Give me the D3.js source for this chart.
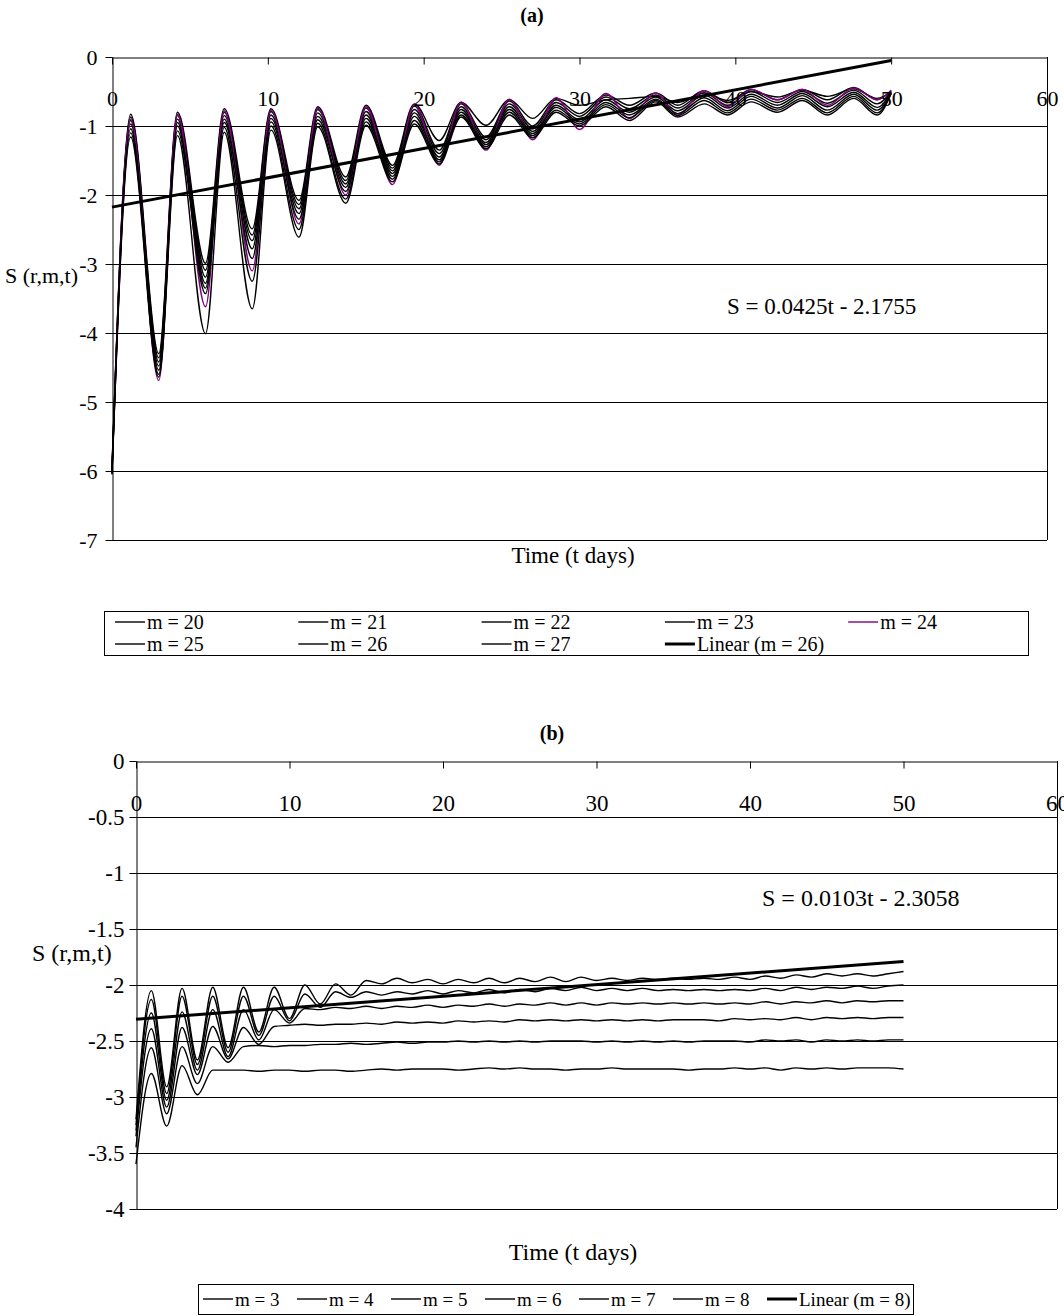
<!DOCTYPE html>
<html>
<head>
<meta charset="utf-8">
<script src="https://cdn.jsdelivr.net/npm/d3@7"></script>
<style>
  html, body { margin: 0; padding: 0; background: #fff; }
  svg { display: block; }
  text { font-family: "Liberation Serif", "Times New Roman", serif; fill: #000; }
</style>
</head>
<body>
<svg id="chart" width="1064" height="1316"></svg>
<script>
// ---------- Panel (a): m = 20 … 27 ----------
const timeA = [0, 1.2, 3, 4.2, 6, 7.2, 9, 10.2, 12, 13.2, 15, 16.3, 18, 19.4, 21, 22.4, 24, 25.5, 27, 28.5,
               30, 31.7, 33.2, 34.9, 36.3, 38, 39.5, 41, 42.7, 44.3, 45.9, 47.6, 49.1, 50];
const seriesNamesA = ["m = 20", "m = 21", "m = 22", "m = 23", "m = 24", "m = 25", "m = 26", "m = 27"];
const seriesColorsA = ["#000", "#000", "#000", "#000", "#800080", "#000", "#000", "#000"];
const m20 = [-5.95, -0.83, -4.30, -0.80, -2.99, -0.75, -2.49, -0.75, -2.08, -0.72, -1.74, -0.70, -1.57, -0.68, -1.21, -0.66, -0.99, -0.62, -0.89, -0.60, -0.70, -0.62, -0.60, -0.57, -0.66, -0.52, -0.63, -0.50, -0.58, -0.48, -0.57, -0.46, -0.60, -0.50];
const m21 = [-5.97, -0.87, -4.36, -0.85, -3.09, -0.80, -2.58, -0.79, -2.14, -0.76, -1.79, -0.74, -1.61, -0.71, -1.35, -0.68, -1.16, -0.64, -1.00, -0.62, -0.82, -0.55, -0.70, -0.52, -0.70, -0.49, -0.66, -0.47, -0.62, -0.47, -0.62, -0.44, -0.62, -0.49];
const m22 = [-5.98, -0.92, -4.42, -0.90, -3.19, -0.85, -2.66, -0.84, -2.20, -0.81, -1.84, -0.79, -1.65, -0.76, -1.40, -0.72, -1.20, -0.68, -1.04, -0.66, -0.86, -0.58, -0.75, -0.55, -0.74, -0.52, -0.70, -0.50, -0.66, -0.50, -0.67, -0.48, -0.68, -0.50];
const m23 = [-6.00, -0.97, -4.48, -0.95, -3.28, -0.90, -2.78, -0.89, -2.27, -0.86, -1.89, -0.84, -1.69, -0.81, -1.45, -0.76, -1.24, -0.72, -1.08, -0.70, -0.91, -0.62, -0.80, -0.58, -0.78, -0.55, -0.74, -0.54, -0.70, -0.53, -0.72, -0.51, -0.73, -0.51];
const m24 = [-6.02, -0.90, -4.69, -0.83, -3.62, -0.78, -3.10, -0.77, -2.42, -0.74, -2.00, -0.72, -1.85, -0.69, -1.57, -0.65, -1.35, -0.61, -1.20, -0.59, -1.05, -0.53, -0.89, -0.52, -0.84, -0.49, -0.72, -0.47, -0.62, -0.47, -0.70, -0.45, -0.62, -0.48];
const m25 = [-6.03, -1.04, -4.54, -1.00, -3.35, -0.95, -2.92, -0.94, -2.35, -0.91, -1.95, -0.89, -1.73, -0.86, -1.49, -0.80, -1.27, -0.76, -1.11, -0.73, -0.94, -0.66, -0.84, -0.61, -0.82, -0.59, -0.78, -0.57, -0.74, -0.56, -0.77, -0.54, -0.77, -0.52];
const m26 = [-6.04, -1.10, -4.60, -1.07, -3.43, -1.02, -3.25, -1.00, -2.50, -0.96, -2.06, -0.94, -1.77, -0.92, -1.52, -0.84, -1.30, -0.80, -1.14, -0.77, -0.97, -0.69, -0.88, -0.63, -0.85, -0.63, -0.81, -0.61, -0.77, -0.60, -0.81, -0.57, -0.81, -0.53];
const m27 = [-6.05, -1.16, -4.64, -1.14, -4.01, -1.09, -3.65, -1.06, -2.61, -1.01, -2.12, -0.99, -1.81, -0.97, -1.55, -0.87, -1.33, -0.84, -1.17, -0.80, -1.00, -0.72, -0.92, -0.65, -0.87, -0.68, -0.84, -0.65, -0.80, -0.63, -0.84, -0.60, -0.84, -0.53];
const trendA = { slope: 0.0425, intercept: -2.1755, span: [0, 50], label: "Linear (m = 26)",
                 equation: "S = 0.0425t - 2.1755" };
const xTicksA = [0, 10, 20, 30, 40, 50, 60];
const yTicksA = [0, -1, -2, -3, -4, -5, -6, -7];

// ---------- Panel (b): m = 3 … 8 ----------
const timeB = [0, 1, 2, 3, 4, 5, 6, 7, 8, 9, 10, 11, 12, 13, 14, 15, 16, 17, 18, 19, 20, 21, 22, 23, 24, 25,
               26, 27, 28, 29, 30, 31, 32, 33, 34, 35, 36, 37, 38, 39, 40, 41, 42, 43, 44, 45, 46, 47, 48, 49, 50];
const seriesNamesB = ["m = 3", "m = 4", "m = 5", "m = 6", "m = 7", "m = 8"];
const m3 = [-3.60, -2.79, -3.26, -2.72, -2.98, -2.76, -2.76, -2.76, -2.77, -2.76, -2.76, -2.77, -2.76, -2.76, -2.77, -2.76, -2.75, -2.76, -2.75, -2.75, -2.75, -2.76, -2.75, -2.74, -2.75, -2.74, -2.75, -2.75, -2.76, -2.75, -2.75, -2.74, -2.75, -2.75, -2.75, -2.75, -2.76, -2.75, -2.75, -2.74, -2.75, -2.74, -2.76, -2.74, -2.75, -2.74, -2.75, -2.74, -2.74, -2.74, -2.75];
const m4 = [-3.45, -2.56, -3.15, -2.55, -2.88, -2.55, -2.69, -2.55, -2.54, -2.55, -2.54, -2.54, -2.53, -2.53, -2.52, -2.53, -2.52, -2.51, -2.52, -2.51, -2.51, -2.50, -2.51, -2.50, -2.51, -2.50, -2.51, -2.50, -2.50, -2.50, -2.51, -2.50, -2.51, -2.50, -2.51, -2.50, -2.51, -2.50, -2.50, -2.50, -2.51, -2.49, -2.50, -2.49, -2.51, -2.49, -2.50, -2.49, -2.50, -2.49, -2.49];
const m5 = [-3.35, -2.39, -3.09, -2.38, -2.80, -2.37, -2.66, -2.38, -2.53, -2.37, -2.36, -2.35, -2.36, -2.35, -2.35, -2.34, -2.35, -2.33, -2.34, -2.33, -2.34, -2.32, -2.33, -2.32, -2.33, -2.31, -2.32, -2.31, -2.32, -2.31, -2.32, -2.31, -2.32, -2.31, -2.32, -2.31, -2.31, -2.31, -2.32, -2.30, -2.31, -2.30, -2.31, -2.29, -2.31, -2.29, -2.30, -2.29, -2.30, -2.29, -2.29];
const m6 = [-3.30, -2.25, -3.03, -2.24, -2.76, -2.22, -2.64, -2.22, -2.49, -2.22, -2.34, -2.21, -2.22, -2.20, -2.21, -2.19, -2.21, -2.19, -2.20, -2.18, -2.20, -2.18, -2.19, -2.17, -2.19, -2.17, -2.18, -2.16, -2.18, -2.16, -2.18, -2.16, -2.17, -2.16, -2.17, -2.16, -2.17, -2.16, -2.17, -2.16, -2.17, -2.15, -2.17, -2.15, -2.16, -2.14, -2.16, -2.14, -2.15, -2.14, -2.14];
const m7 = [-3.25, -2.13, -2.97, -2.10, -2.71, -2.10, -2.60, -2.10, -2.45, -2.10, -2.32, -2.08, -2.20, -2.06, -2.11, -2.06, -2.09, -2.06, -2.08, -2.05, -2.08, -2.05, -2.07, -2.04, -2.07, -2.04, -2.06, -2.03, -2.05, -2.02, -2.05, -2.03, -2.05, -2.03, -2.05, -2.04, -2.05, -2.04, -2.05, -2.04, -2.05, -2.03, -2.05, -2.02, -2.04, -2.02, -2.03, -2.01, -2.03, -2.01, -2.00];
const m8 = [-3.20, -2.05, -2.91, -2.03, -2.67, -2.02, -2.56, -2.02, -2.42, -2.02, -2.30, -2.00, -2.17, -1.99, -2.09, -1.96, -1.99, -1.94, -1.98, -1.95, -1.99, -1.95, -1.98, -1.94, -1.98, -1.94, -1.97, -1.93, -1.97, -1.93, -1.96, -1.94, -1.96, -1.94, -1.95, -1.94, -1.95, -1.94, -1.95, -1.93, -1.95, -1.92, -1.94, -1.91, -1.93, -1.90, -1.92, -1.90, -1.92, -1.90, -1.88];
const trendB = { slope: 0.0103, intercept: -2.3058, span: [0, 50], label: "Linear (m = 8)",
                 equation: "S = 0.0103t - 2.3058" };
const xTicksB = [0, 10, 20, 30, 40, 50, 60];
const yTicksB = [0, -0.5, -1, -1.5, -2, -2.5, -3, -3.5, -4];

const svg = d3.select("#chart");
const SERIF = '"Liberation Serif", "Times New Roman", serif';

function drawPanel(cfg) {
  const g = svg.append("g");
  const x = d3.scaleLinear().domain([0, 60]).range(cfg.xRange);
  const y = d3.scaleLinear().domain(cfg.yDomain).range(cfg.yRange);
  const [x0, x1] = cfg.xRange;
  const [yb, yt] = cfg.yRange;

  // horizontal gridlines (the lowest one closes the plot area)
  g.append("g").selectAll("line")
    .data(cfg.yTicks.filter(v => v !== 0))
    .join("line")
    .attr("x1", x0).attr("x2", x1)
    .attr("y1", d => Math.round(y(d)) + 0.5).attr("y2", d => Math.round(y(d)) + 0.5)
    .attr("stroke", "#000").attr("stroke-width", 1);
  // right border of the plot area
  g.append("line")
    .attr("x1", Math.round(x1) + 0.5).attr("x2", Math.round(x1) + 0.5)
    .attr("y1", yt).attr("y2", yb)
    .attr("stroke", "#000").attr("stroke-width", 1);

  // data series
  const line = d3.line()
    .x((d, i) => x(cfg.time[i]))
    .y(d => y(d))
    .curve(d3.curveMonotoneX);
  g.append("g").selectAll("path")
    .data(cfg.series)
    .join("path")
    .attr("d", d => line(d.values))
    .attr("fill", "none")
    .attr("stroke", d => d.color)
    .attr("stroke-width", 1.4)
    .attr("stroke-linejoin", "round");

  // linear trend
  const tr = cfg.trend;
  g.append("line")
    .attr("x1", x(tr.span[0])).attr("y1", y(tr.intercept + tr.slope * tr.span[0]))
    .attr("x2", x(tr.span[1])).attr("y2", y(tr.intercept + tr.slope * tr.span[1]))
    .attr("stroke", "#000").attr("stroke-width", 3);

  // value axis (left)
  const yAxis = g.append("g")
    .attr("transform", `translate(${Math.round(x0) + 0.5},0)`)
    .call(d3.axisLeft(y).tickValues(cfg.yTicks).tickSize(7).tickSizeOuter(0)
      .tickPadding(cfg.yLabelGap).tickFormat(d => String(d)));
  yAxis.select(".domain").attr("stroke", "#000");
  yAxis.selectAll("text").style("font-size", cfg.tickFont + "px").style("font-family", SERIF);

  // time axis along S = 0
  const xAxis = g.append("g")
    .attr("transform", `translate(0,${Math.round(y(0)) + 0.5})`)
    .call(d3.axisBottom(x).tickValues(cfg.xTicks).tickSize(7).tickSizeOuter(0)
      .tickPadding(cfg.xLabelGap).tickFormat(d => String(d)));
  xAxis.select(".domain").attr("stroke", "#000");
  xAxis.selectAll("text").style("font-size", cfg.tickFont + "px").style("font-family", SERIF);

  // titles
  g.append("text").attr("x", cfg.title.x).attr("y", cfg.title.y)
    .attr("text-anchor", "middle").style("font-size", "20px").style("font-weight", "bold")
    .text(cfg.title.text);
  g.append("text").attr("x", cfg.xTitle.x).attr("y", cfg.xTitle.y)
    .attr("text-anchor", "middle").style("font-size", cfg.labelFont + "px")
    .text("Time (t days)");
  g.append("text").attr("x", cfg.yTitle.x).attr("y", cfg.yTitle.y)
    .style("font-size", cfg.yTitle.font + "px")
    .text("S (r,m,t)");
  g.append("text").attr("x", cfg.eq.x).attr("y", cfg.eq.y)
    .style("font-size", cfg.labelFont + "px")
    .text(tr.equation);

  // legend
  const L = cfg.legend;
  g.append("rect").attr("x", L.x + 0.5).attr("y", L.y + 0.5).attr("width", L.w).attr("height", L.h)
    .attr("fill", "#fff").attr("stroke", "#000").attr("stroke-width", 1);
  const entries = cfg.series.map(s => ({ name: s.name, color: s.color, width: 1.4 }))
    .concat([{ name: tr.label, color: "#000", width: 3 }]);
  const items = g.append("g").selectAll("g")
    .data(entries)
    .join("g")
    .attr("transform", (d, i) => {
      const col = i % L.cols, row = Math.floor(i / L.cols);
      return `translate(${L.x + L.padX + col * L.colW},${L.y + L.rowY0 + row * L.rowH})`;
    });
  items.append("line").attr("x1", 0).attr("x2", 30).attr("y1", 0).attr("y2", 0)
    .attr("stroke", d => d.color).attr("stroke-width", d => d.width);
  items.append("text").attr("x", 32).attr("y", 0).attr("dy", "0.35em")
    .style("font-size", L.font + "px").text(d => d.name);
}

const valuesA = [m20, m21, m22, m23, m24, m25, m26, m27];
drawPanel({
  time: timeA,
  series: valuesA.map((v, i) => ({ name: seriesNamesA[i], color: seriesColorsA[i], values: v })),
  trend: trendA,
  xRange: [112, 1047], yDomain: [-7, 0], yRange: [540, 57],
  xTicks: xTicksA, yTicks: yTicksA, tickFont: 22, labelFont: 23, xLabelGap: 26, yLabelGap: 8,
  title: { text: "(a)", x: 532, y: 22 },
  xTitle: { x: 573, y: 563 },
  yTitle: { x: 5, y: 283, font: 22 },
  eq: { x: 727, y: 314 },
  legend: { x: 104, y: 611, w: 924, h: 44, cols: 5, colW: 183.3, padX: 11, rowY0: 11, rowH: 22, font: 20 }
});

const valuesB = [m3, m4, m5, m6, m7, m8];
drawPanel({
  time: timeB,
  series: valuesB.map((v, i) => ({ name: seriesNamesB[i], color: "#000", values: v })),
  trend: trendB,
  xRange: [136, 1057], yDomain: [-4, 0], yRange: [1209, 761],
  xTicks: xTicksB, yTicks: yTicksB, tickFont: 23, labelFont: 24, xLabelGap: 26, yLabelGap: 5,
  title: { text: "(b)", x: 552, y: 740 },
  xTitle: { x: 573, y: 1260 },
  yTitle: { x: 32, y: 961, font: 24 },
  eq: { x: 762, y: 906 },
  legend: { x: 198, y: 1284, w: 715, h: 30, cols: 7, colW: 94, padX: 5, rowY0: 15, rowH: 0, font: 19 }
});
</script>
</body>
</html>
